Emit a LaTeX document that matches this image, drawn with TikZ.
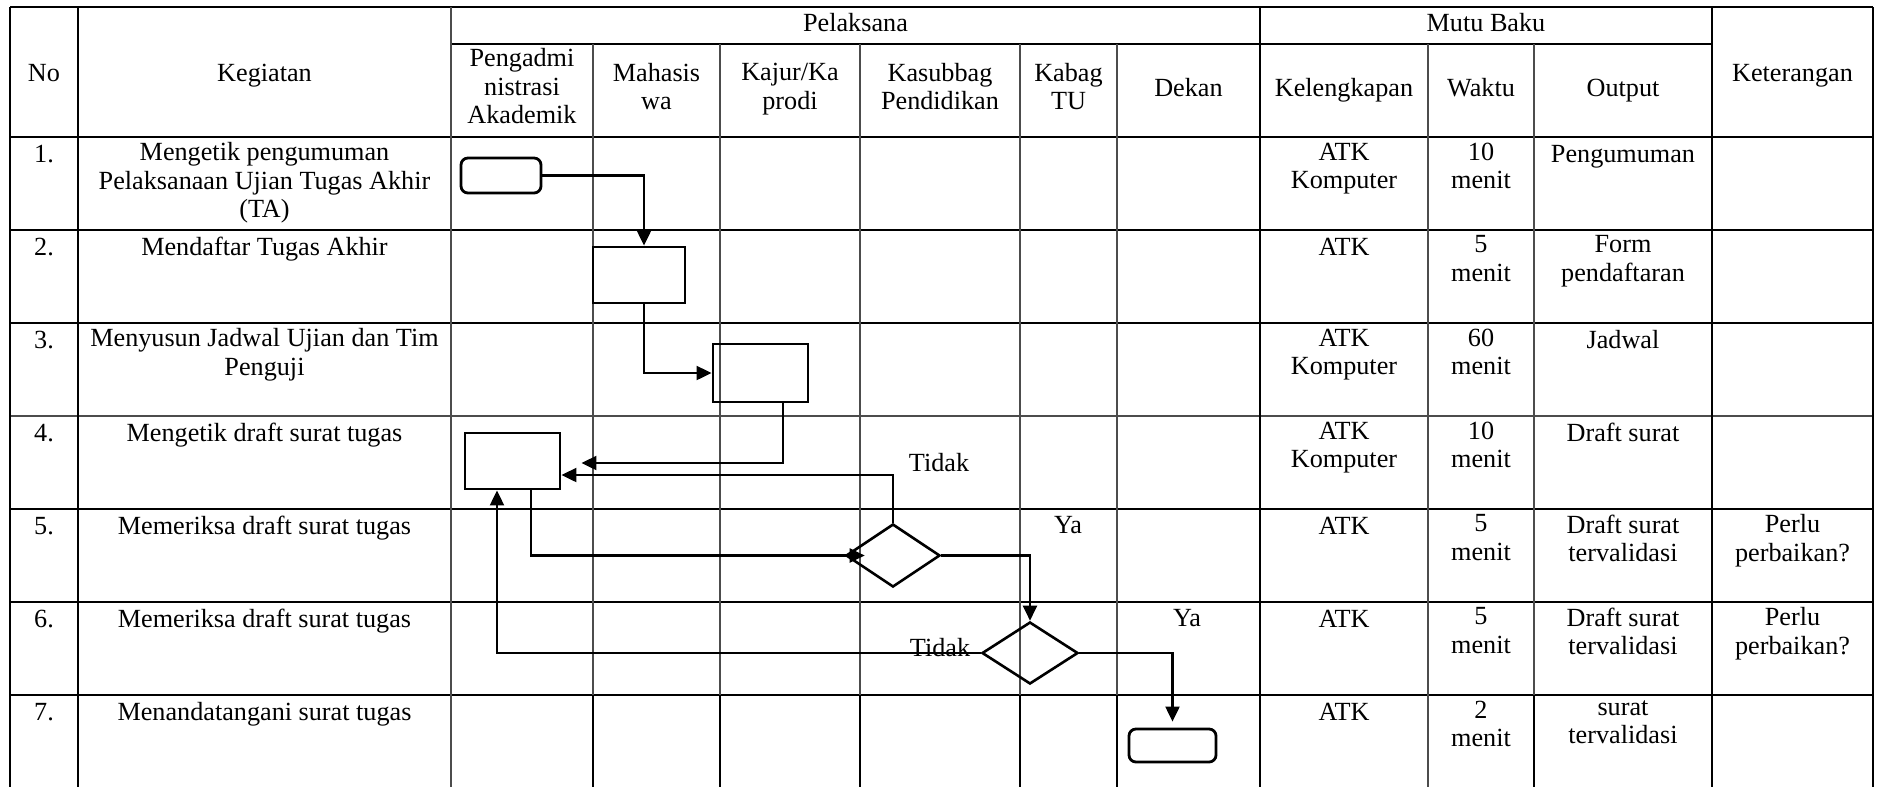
\documentclass[tikz,border=0pt]{standalone}
\usepackage{fontspec}
\setmainfont{Liberation Serif}
\usetikzlibrary{arrows.meta,shapes.geometric,calc}
\newcommand\cellfnt{\fontsize{7.45}{8.1}\selectfont}
\begin{document}
\begin{tikzpicture}[x=0.01cm,y=-0.01cm,
  thk/.style={line width=0.026cm, black},
  thn/.style={line width=0.011cm, black!70},
  cell/.style={anchor=north, inner sep=0pt, align=center, font=\cellfnt, execute at begin node=\strut},
  hd/.style={anchor=center, inner sep=0pt, align=center, font=\cellfnt, execute at begin node=\strut, execute at end node=\strut},
  lbl/.style={anchor=base, inner sep=0pt, font=\cellfnt},
  proc/.style={draw, line width=0.028cm, inner sep=0pt},
  term/.style={draw, line width=0.028cm, inner sep=0pt, rounded corners=0.07cm},
  dec/.style={draw, diamond, line width=0.026cm, inner sep=0pt},
  conn/.style={line width=0.021cm, -{Triangle[length=0.15cm,width=0.14cm]}}
]
\useasboundingbox (0,0) rectangle (1881,787);

% ---------- table grid ----------
\draw[thk] (10,7) -- (1873,7);
\draw[thk] (451,44) -- (1712,44);
\draw[thk] (10,137) -- (1873,137);
\draw[thk] (10,230) -- (1873,230);
\draw[thk] (10,323) -- (1873,323);
\draw[thn] (10,416) -- (1873,416);
\draw[thk] (10,509) -- (1873,509);
\draw[thk] (10,602) -- (1873,602);
\draw[thk] (10,695) -- (1873,695);

\draw[thk] (10,7) -- (10,787);
\draw[thk] (78,7) -- (78,787);
\draw[thn] (451,7) -- (451,787);
\foreach \xx in {593,720,860,1020,1117}{
  \draw[thn] (\xx,44) -- (\xx,695);
  \draw[thk] (\xx,695) -- (\xx,787);
}
\draw[thk] (1260,7) -- (1260,787);
\draw[thn] (1428,44) -- (1428,787);
\draw[thn] (1534,44) -- (1534,695);
\draw[thk] (1534,695) -- (1534,787);
\draw[thk] (1712,7) -- (1712,787);
\draw[thk] (1873,7) -- (1873,787);

% ---------- header ----------
\node[hd] (hNo) at (44,76) {No};
\node[hd] (hKeg) at (264.5,76) {Kegiatan};
\node[hd] (hPel) at (855.5,25.5) {Pelaksana};
\node[hd] (hMutu) at (1486,25.5) {Mutu Baku};
\node[hd] (hKet) at (1792.5,76) {Keterangan};
\node[hd] (hP1) at (522,90.5) {Pengadmi\\nistrasi\\Akademik};
\node[hd] (hP2) at (656.5,90.5) {Mahasis\\wa};
\node[hd] (hP3) at (790,90.5) {Kajur/Ka\\prodi};
\node[hd] (hP4) at (940,90.5) {Kasubbag\\Pendidikan};
\node[hd] (hP5) at (1068.5,90.5) {Kabag\\TU};
\node[hd] (hP6) at (1188.5,90.5) {Dekan};
\node[hd] (hM1) at (1344,90.5) {Kelengkapan};
\node[hd] (hM2) at (1481,90.5) {Waktu};
\node[hd] (hM3) at (1623,90.5) {Output};

% ---------- rows ----------
% row 1
\node[cell] (n1) at (44,142) {1.};
\node[cell] (k1) at (264.5,142) {Mengetik pengumuman\\Pelaksanaan Ujian Tugas Akhir\\(TA)};
\node[cell] (a1) at (1344,142) {ATK\\Komputer};
\node[cell] (w1) at (1481,142) {10\\menit};
\node[cell] (o1) at (1623,142) {Pengumuman};
% row 2
\node[cell] (n2) at (44,235) {2.};
\node[cell] (k2) at (264.5,235) {Mendaftar Tugas Akhir};
\node[cell] (a2) at (1344,235) {ATK};
\node[cell] (w2) at (1481,235) {5\\menit};
\node[cell] (o2) at (1623,235) {Form\\pendaftaran};
% row 3
\node[cell] (n3) at (44,328) {3.};
\node[cell] (k3) at (264.5,328) {Menyusun Jadwal Ujian dan Tim\\Penguji};
\node[cell] (a3) at (1344,328) {ATK\\Komputer};
\node[cell] (w3) at (1481,328) {60\\menit};
\node[cell] (o3) at (1623,328) {Jadwal};
% row 4
\node[cell] (n4) at (44,421) {4.};
\node[cell] (k4) at (264.5,421) {Mengetik draft surat tugas};
\node[cell] (a4) at (1344,421) {ATK\\Komputer};
\node[cell] (w4) at (1481,421) {10\\menit};
\node[cell] (o4) at (1623,421) {Draft surat};
% row 5
\node[cell] (n5) at (44,514) {5.};
\node[cell] (k5) at (264.5,514) {Memeriksa draft surat tugas};
\node[cell] (a5) at (1344,514) {ATK};
\node[cell] (w5) at (1481,514) {5\\menit};
\node[cell] (o5) at (1623,514) {Draft surat\\tervalidasi};
\node[cell] (r5) at (1792.5,514) {Perlu\\perbaikan?};
% row 6
\node[cell] (n6) at (44,607) {6.};
\node[cell] (k6) at (264.5,607) {Memeriksa draft surat tugas};
\node[cell] (a6) at (1344,607) {ATK};
\node[cell] (w6) at (1481,607) {5\\menit};
\node[cell] (o6) at (1623,607) {Draft surat\\tervalidasi};
\node[cell] (r6) at (1792.5,607) {Perlu\\perbaikan?};
% row 7
\node[cell] (n7) at (44,700) {7.};
\node[cell] (k7) at (264.5,700) {Menandatangani surat tugas};
\node[cell] (a7) at (1344,700) {ATK};
\node[cell] (w7) at (1481,700) {2\\menit};
\node[cell] (o7) at (1623,700) {surat\\tervalidasi};

% ---------- flowchart ----------
\node[term, minimum width=0.80cm, minimum height=0.35cm] (s1) at (501,175.5) {};
\node[proc, minimum width=0.92cm, minimum height=0.56cm] (b2) at (639,275) {};
\node[proc, minimum width=0.95cm, minimum height=0.58cm] (b3) at (760.5,373) {};
\node[proc, minimum width=0.95cm, minimum height=0.56cm] (b4) at (512.5,461) {};
\node[dec, minimum width=0.94cm, minimum height=0.63cm] (d1) at (893,555.5) {};
\node[dec, minimum width=0.96cm, minimum height=0.62cm] (d2) at (1030,653) {};
\node[term, minimum width=0.87cm, minimum height=0.33cm] (e7) at (1172.5,745.5) {};

\draw[conn] (s1.east) -| ([xshift=0.05cm]b2.north);
\draw[conn] ([xshift=0.05cm]b2.south) |- (b3.west);
\draw[conn] ([xshift=0.225cm]b3.south) |- ([xshift=0.2cm,yshift=-0.02cm]b4.east);
\draw[conn] (d1.north) |- ([yshift=-0.14cm]b4.east);
\draw[conn] ([xshift=0.185cm]b4.south) |- ([xshift=0.2cm]d1.west);
\draw[conn] (d1.east) -| (d2.north);
\draw[conn] (d2.west) -| ([xshift=-0.155cm]b4.south);
\draw[conn] (d2.east) -| ([yshift=0.06cm]e7.north);

\node[lbl] (t1) at (939,471) {Tidak};
\node[lbl] (y1) at (1068,533) {Ya};
\node[lbl] (t2) at (940,656) {Tidak};
\node[lbl] (y2) at (1187,626) {Ya};
\end{tikzpicture}
\end{document}
